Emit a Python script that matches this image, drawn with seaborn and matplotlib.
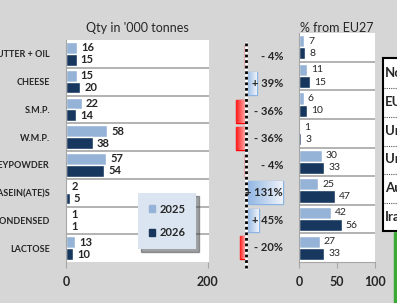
import numpy as np
import pandas as pd
import matplotlib
matplotlib.use("Agg")
import matplotlib.pyplot as plt
from matplotlib.patches import Patch, Rectangle
from matplotlib.lines import Line2D
from matplotlib.colors import LinearSegmentedColormap
import seaborn as sns

# data
products = ["BUTTER + OIL", "CHEESE", "S.M.P.", "W.M.P.", "WHEYPOWDER",
            "CASEIN(ATE)S", "CONDENSED", "LACTOSE"]
qty_2025 = [16, 15, 22, 58, 57, 2, 1, 13]
qty_2026 = [15, 20, 14, 38, 54, 5, 1, 10]
pct_change = [-4, 39, -36, -36, -4, 131, 45, -20]
share_2025 = [7, 11, 6, 1, 30, 25, 42, 27]
share_2026 = [8, 15, 10, 3, 33, 47, 56, 33]
years = ["2025", "2026"]
table_rows = ["Norway", "EU27", "United Kingdom", "United States", "Australia", "Iran"]

W, H = 397, 303
BG = "#d6d6d6"
LIGHT = "#95b3d7"
DARK = "#17375e"
GRID = "#a6a6a6"

sns.set_style("white")
plt.rcParams["font.family"] = ["Lato", "DejaVu Sans"]


def px(x0, y0, x1, y1):
    return [x0 / W, 1 - y1 / H, (x1 - x0) / W, (y1 - y0) / H]


fig = plt.figure(figsize=(W / 100, H / 100), dpi=100, facecolor=BG)

qty = pd.DataFrame({
    "product": products * 2,
    "value": qty_2025 + qty_2026,
    "year": [years[0]] * len(products) + [years[1]] * len(products),
})
share = pd.DataFrame({
    "product": products * 2,
    "value": share_2025 + share_2026,
    "year": [years[0]] * len(products) + [years[1]] * len(products),
})

# ---- left panel: quantities
ax_l = fig.add_axes(px(66, 40, 209, 262))
sns.barplot(data=qty, x="value", y="product", hue="year", palette=[LIGHT, DARK],
            width=0.85, orient="h", legend=False, ax=ax_l, saturation=1)
ax_l.set_facecolor("white")
ax_l.set_xlim(0, 202)
ax_l.set_ylim(7.5, -0.5)
for i in range(len(products) - 1):
    ax_l.axhline(i + 0.5, color=GRID, lw=1.2)
for c in ax_l.containers:
    ax_l.bar_label(c, padding=3, fontsize=8, fontweight="bold")
for s in ["top", "right", "bottom"]:
    ax_l.spines[s].set_visible(False)
ax_l.spines["left"].set_color(GRID)
ax_l.set_xticks([0, 200])
ax_l.tick_params(axis="x", bottom=True, length=4, color=GRID, pad=6, labelsize=9)
ax_l.tick_params(axis="y", left=False, pad=8, labelsize=6.5)
for t in ax_l.get_xticklabels() + ax_l.get_yticklabels():
    t.set_fontweight("bold")
ax_l.set_xlabel("")
ax_l.set_ylabel("")
ax_l.set_title("Qty in '000 tonnes", fontsize=9, pad=5.5)

fig.legend(handles=[Patch(color=LIGHT), Patch(color=DARK)], labels=years,
           loc="upper left", bbox_to_anchor=(138 / W, 1 - 193 / H),
           borderaxespad=0, frameon=True, facecolor="#dbe5f1", edgecolor="none",
           shadow=True, fancybox=False, framealpha=1, handlelength=0.6,
           handleheight=0.6, handletextpad=0.4, labelspacing=1.15, borderpad=0.95,
           prop={"weight": "bold", "size": 8})

# ---- middle panel: % change
ax_m = fig.add_axes(px(215, 43, 295, 261))
ax_m.set_axis_off()
xmin, xmax = -(246 - 215) / 0.28, (295 - 246) / 0.28
pos = np.arange(len(products))
bars = ax_m.barh(pos, pct_change, height=0.85,
                 color=["#ff8080" if v < 0 else "#c5d9f1" for v in pct_change],
                 edgecolor=["#ff0000" if v < 0 else "#8db3e2" for v in pct_change],
                 lw=1)
red_cm = LinearSegmentedColormap.from_list("r", ["#ff1a1a", "#ffc0c0"])
blue_cm = LinearSegmentedColormap.from_list("b", ["#8db3e2", "#eef3fa"])
grad = np.linspace(0, 1, 64).reshape(1, -1)
for b, v in zip(bars, pct_change):
    x0, y0 = b.get_x(), b.get_y()
    x1, y1 = x0 + b.get_width(), y0 + b.get_height()
    im = ax_m.imshow(grad, cmap=red_cm if v < 0 else blue_cm, aspect="auto",
                     extent=[min(x0, x1), max(x0, x1), y1, y0], zorder=1.5)
    im.set_clip_path(b)
ax_m.set_xlim(xmin, xmax)
ax_m.set_ylim(7.5, -0.5)
ax_m.axvline(0, ymin=-0.03, ymax=1, color="white", lw=2, clip_on=False, zorder=3)
ax_m.axvline(0, ymin=-0.03, ymax=1, color="black", lw=2, ls=(0, (1, 1)),
             clip_on=False, zorder=4)
lab_tr = ax_m.get_yaxis_transform()
for i, v in enumerate(pct_change):
    sign = "+" if v > 0 else "-"
    ax_m.text((283 - 215) / 80, i, f"{sign} {abs(v)}%", transform=lab_tr,
              ha="right", va="center", fontsize=8, fontweight="bold", zorder=5)

# ---- right panel: share of EU27
ax_r = fig.add_axes(px(299, 33, 375, 262))
sns.barplot(data=share, x="value", y="product", hue="year", palette=[LIGHT, DARK],
            width=0.85, orient="h", legend=False, ax=ax_r, saturation=1)
ax_r.set_facecolor("white")
ax_r.set_xlim(0, 100)
ax_r.set_ylim(7.5, -0.5)
for i in range(len(products) - 1):
    ax_r.axhline(i + 0.5, color=GRID, lw=1.2)
for c in ax_r.containers:
    ax_r.bar_label(c, padding=3, fontsize=7.5)
for s in ["top", "right"]:
    ax_r.spines[s].set_visible(False)
for s in ["left", "bottom"]:
    ax_r.spines[s].set_color(GRID)
ax_r.set_xticks([0, 50, 100])
ax_r.set_yticks([])
ax_r.tick_params(axis="x", bottom=True, length=4, color=GRID, pad=6, labelsize=9)
for t in ax_r.get_xticklabels():
    t.set_fontweight("bold")
ax_r.set_xlabel("")
ax_r.set_ylabel("")
ax_r.set_title("% from EU27", fontsize=9, pad=0.5)

# ---- clipped table at the right edge
fig.patches.append(Rectangle((383 / W, 1 - 231 / H), 30 / W, 173 / H,
                             transform=fig.transFigure, facecolor="white",
                             edgecolor="black", lw=1.5))
for k, name in enumerate(table_rows):
    y = 73 + k * 28.8
    fig.text(385 / W, 1 - y / H, name, ha="left", va="center", fontsize=9.5,
             fontweight="bold")
    if k < len(table_rows) - 1:
        fig.lines.append(Line2D([384 / W, 1], [1 - (y + 15) / H] * 2,
                                transform=fig.transFigure, color="#555555",
                                lw=0.8, ls=(0, (1, 1))))
fig.lines.append(Line2D([395 / W, 395 / W], [1 - 233 / H, 0],
                        transform=fig.transFigure, color="#3aaa35", lw=2.5))

fig.savefig("out.png", dpi=100, facecolor=BG)
